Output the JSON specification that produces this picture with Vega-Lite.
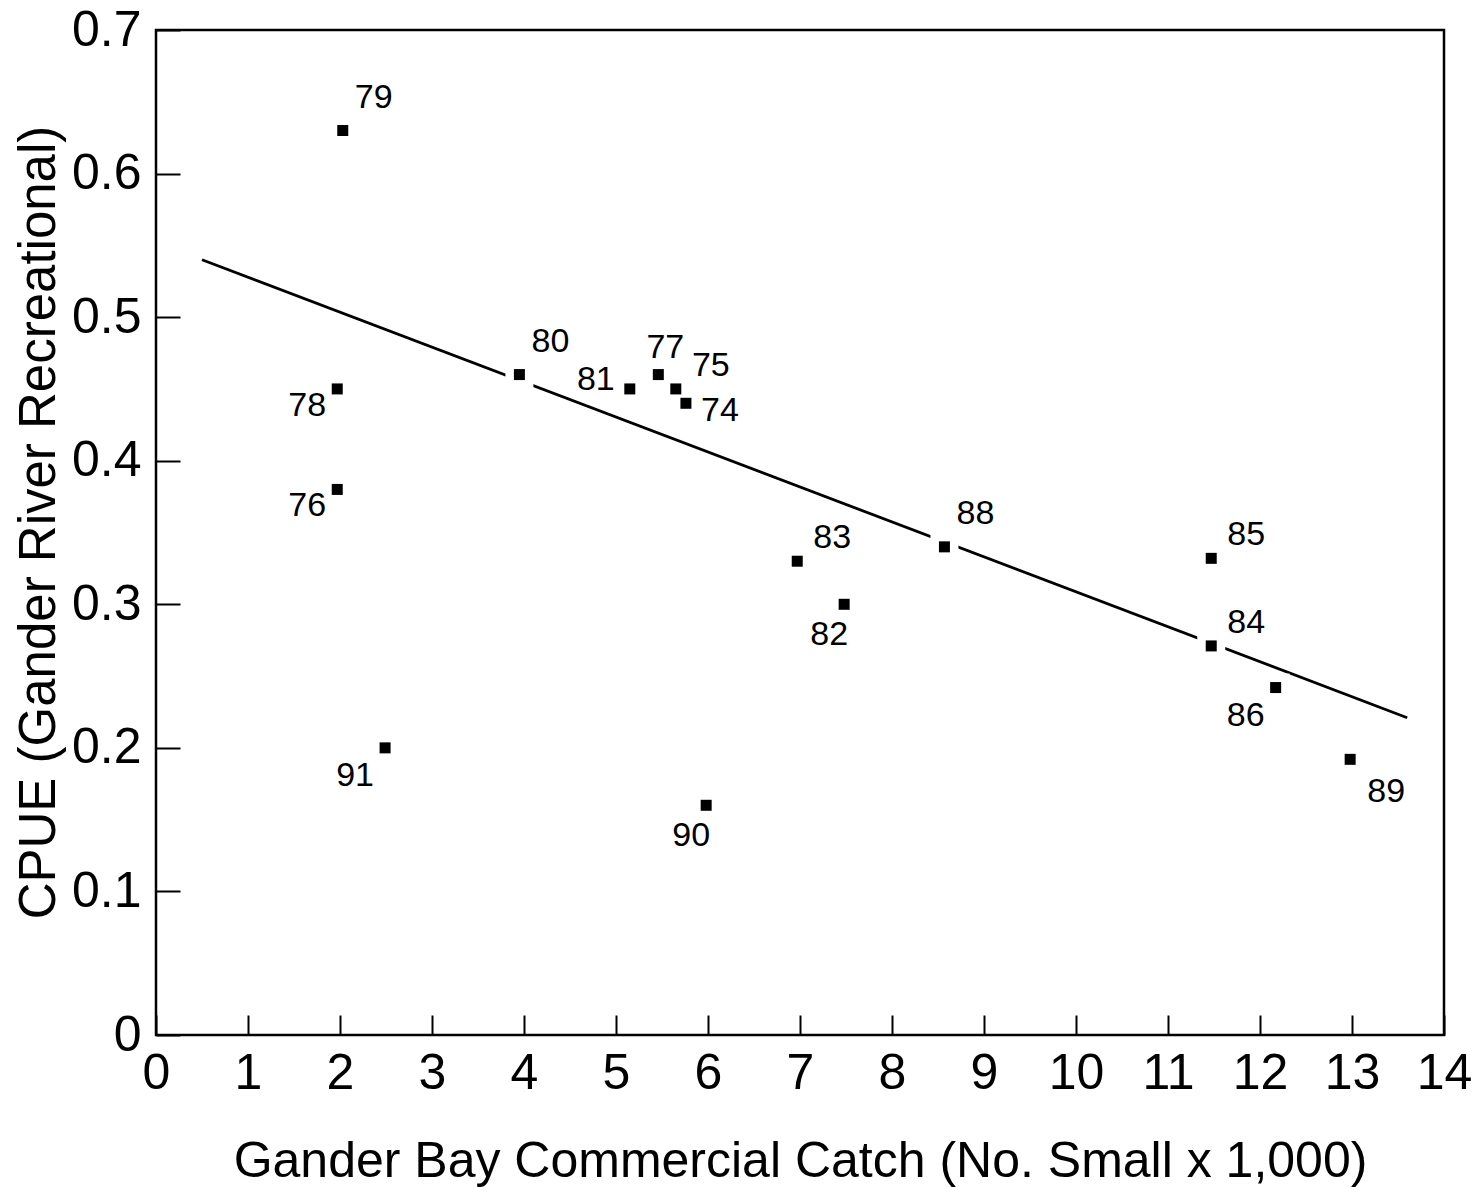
{
  "$schema": "https://vega.github.io/schema/vega-lite/v6.json",
  "autosize": "none",
  "width": 1288,
  "height": 1005,
  "padding": {"left": 156, "top": 30, "right": 35, "bottom": 152},
  "background": "white",
  "datasets": {
    "pts": [
      {"year": "79", "catch": 2.03, "cpue": 0.63},
      {"year": "78", "catch": 1.97, "cpue": 0.45},
      {"year": "76", "catch": 1.97, "cpue": 0.38},
      {"year": "91", "catch": 2.49, "cpue": 0.20},
      {"year": "80", "catch": 3.95, "cpue": 0.46},
      {"year": "81", "catch": 5.15, "cpue": 0.45},
      {"year": "77", "catch": 5.46, "cpue": 0.46},
      {"year": "75", "catch": 5.65, "cpue": 0.45},
      {"year": "74", "catch": 5.76, "cpue": 0.44},
      {"year": "90", "catch": 5.98, "cpue": 0.16},
      {"year": "83", "catch": 6.97, "cpue": 0.33},
      {"year": "82", "catch": 7.48, "cpue": 0.30},
      {"year": "88", "catch": 8.57, "cpue": 0.34},
      {"year": "85", "catch": 11.47, "cpue": 0.332},
      {"year": "84", "catch": 11.47, "cpue": 0.271},
      {"year": "86", "catch": 12.17, "cpue": 0.242},
      {"year": "89", "catch": 12.98, "cpue": 0.192}
    ],
    "fit": [
      {"catch": 0.5, "cpue": 0.54},
      {"catch": 13.6, "cpue": 0.221}
    ]
  },
  "encoding": {
    "x": {"field": "catch", "type": "quantitative", "scale": {"domain": [0, 14], "nice": false, "zero": false},
      "axis": {"values": [0,1,2,3,4,5,6,7,8,9,10,11,12,13,14], "title": "Gander Bay Commercial Catch (No. Small x 1,000)", "tickSize": -20, "labelPadding": 33, "titlePadding": 38, "labelFlush": false, "titleFontSize": 50}},
    "y": {"field": "cpue", "type": "quantitative", "scale": {"domain": [0, 0.7], "nice": false, "zero": false},
      "axis": {"values": [0,0.1,0.2,0.3,0.4,0.5,0.6,0.7], "title": "CPUE (Gander River Recreational)", "tickSize": -24, "labelPadding": 39, "titlePadding": 6, "titleY": 492, "titleFontSize": 51, "labelExpr": "datum.value == 0 ? '0' : format(datum.value, '.1f')", "labelFlush": false}}
  },
  "layer": [
    {"data": {"name": "fit"}, "mark": {"type": "line", "color": "black", "strokeWidth": 2.8}},
    {"data": {"name": "pts"}, "mark": {"type": "point", "shape": "square", "filled": true, "color": "white", "opacity": 1, "size": 784}},
    {"data": {"name": "pts"}, "mark": {"type": "point", "shape": "square", "filled": true, "color": "black", "opacity": 1, "size": 121}},
    {"data": {"name": "pts"}, "transform": [{"filter": {"field": "year", "oneOf": ["79", "80", "88"]}}],
      "mark": {"type": "text", "font": "Liberation Sans", "fontSize": 34, "color": "black", "align": "center", "baseline": "middle", "dx": 31, "dy": -33},
      "encoding": {"text": {"field": "year"}}},
    {"data": {"name": "pts"}, "transform": [{"filter": {"field": "year", "oneOf": ["85", "84", "83", "75"]}}],
      "mark": {"type": "text", "font": "Liberation Sans", "fontSize": 34, "color": "black", "align": "center", "baseline": "middle", "dx": 35, "dy": -23},
      "encoding": {"text": {"field": "year"}}},
    {"data": {"name": "pts"}, "transform": [{"filter": {"field": "year", "oneOf": ["78", "76"]}}],
      "mark": {"type": "text", "font": "Liberation Sans", "fontSize": 34, "color": "black", "align": "center", "baseline": "middle", "dx": -30, "dy": 17},
      "encoding": {"text": {"field": "year"}}},
    {"data": {"name": "pts"}, "transform": [{"filter": {"field": "year", "equal": "81"}}],
      "mark": {"type": "text", "font": "Liberation Sans", "fontSize": 34, "color": "black", "align": "center", "baseline": "middle", "dx": -34, "dy": -9},
      "encoding": {"text": {"field": "year"}}},
    {"data": {"name": "pts"}, "transform": [{"filter": {"field": "year", "oneOf": ["91", "86"]}}],
      "mark": {"type": "text", "font": "Liberation Sans", "fontSize": 34, "color": "black", "align": "center", "baseline": "middle", "dx": -30, "dy": 28},
      "encoding": {"text": {"field": "year"}}},
    {"data": {"name": "pts"}, "transform": [{"filter": {"field": "year", "oneOf": ["90", "82"]}}],
      "mark": {"type": "text", "font": "Liberation Sans", "fontSize": 34, "color": "black", "align": "center", "baseline": "middle", "dx": -15, "dy": 31},
      "encoding": {"text": {"field": "year"}}},
    {"data": {"name": "pts"}, "transform": [{"filter": {"field": "year", "equal": "77"}}],
      "mark": {"type": "text", "font": "Liberation Sans", "fontSize": 34, "color": "black", "align": "center", "baseline": "middle", "dx": 7, "dy": -27},
      "encoding": {"text": {"field": "year"}}},
    {"data": {"name": "pts"}, "transform": [{"filter": {"field": "year", "equal": "74"}}],
      "mark": {"type": "text", "font": "Liberation Sans", "fontSize": 34, "color": "black", "align": "center", "baseline": "middle", "dx": 34, "dy": 8},
      "encoding": {"text": {"field": "year"}}},
    {"data": {"name": "pts"}, "transform": [{"filter": {"field": "year", "equal": "89"}}],
      "mark": {"type": "text", "font": "Liberation Sans", "fontSize": 34, "color": "black", "align": "center", "baseline": "middle", "dx": 36, "dy": 33},
      "encoding": {"text": {"field": "year"}}}
  ],
  "config": {
    "view": {"stroke": "black", "strokeWidth": 2.5},
    "axis": {"domain": false, "grid": false, "ticks": true, "tickColor": "black", "tickWidth": 2,
      "labelColor": "black", "labelFont": "Liberation Sans", "labelFontSize": 50,
      "titleColor": "black", "titleFont": "Liberation Sans", "titleFontSize": 50, "titleFontWeight": "normal"}
  }
}
